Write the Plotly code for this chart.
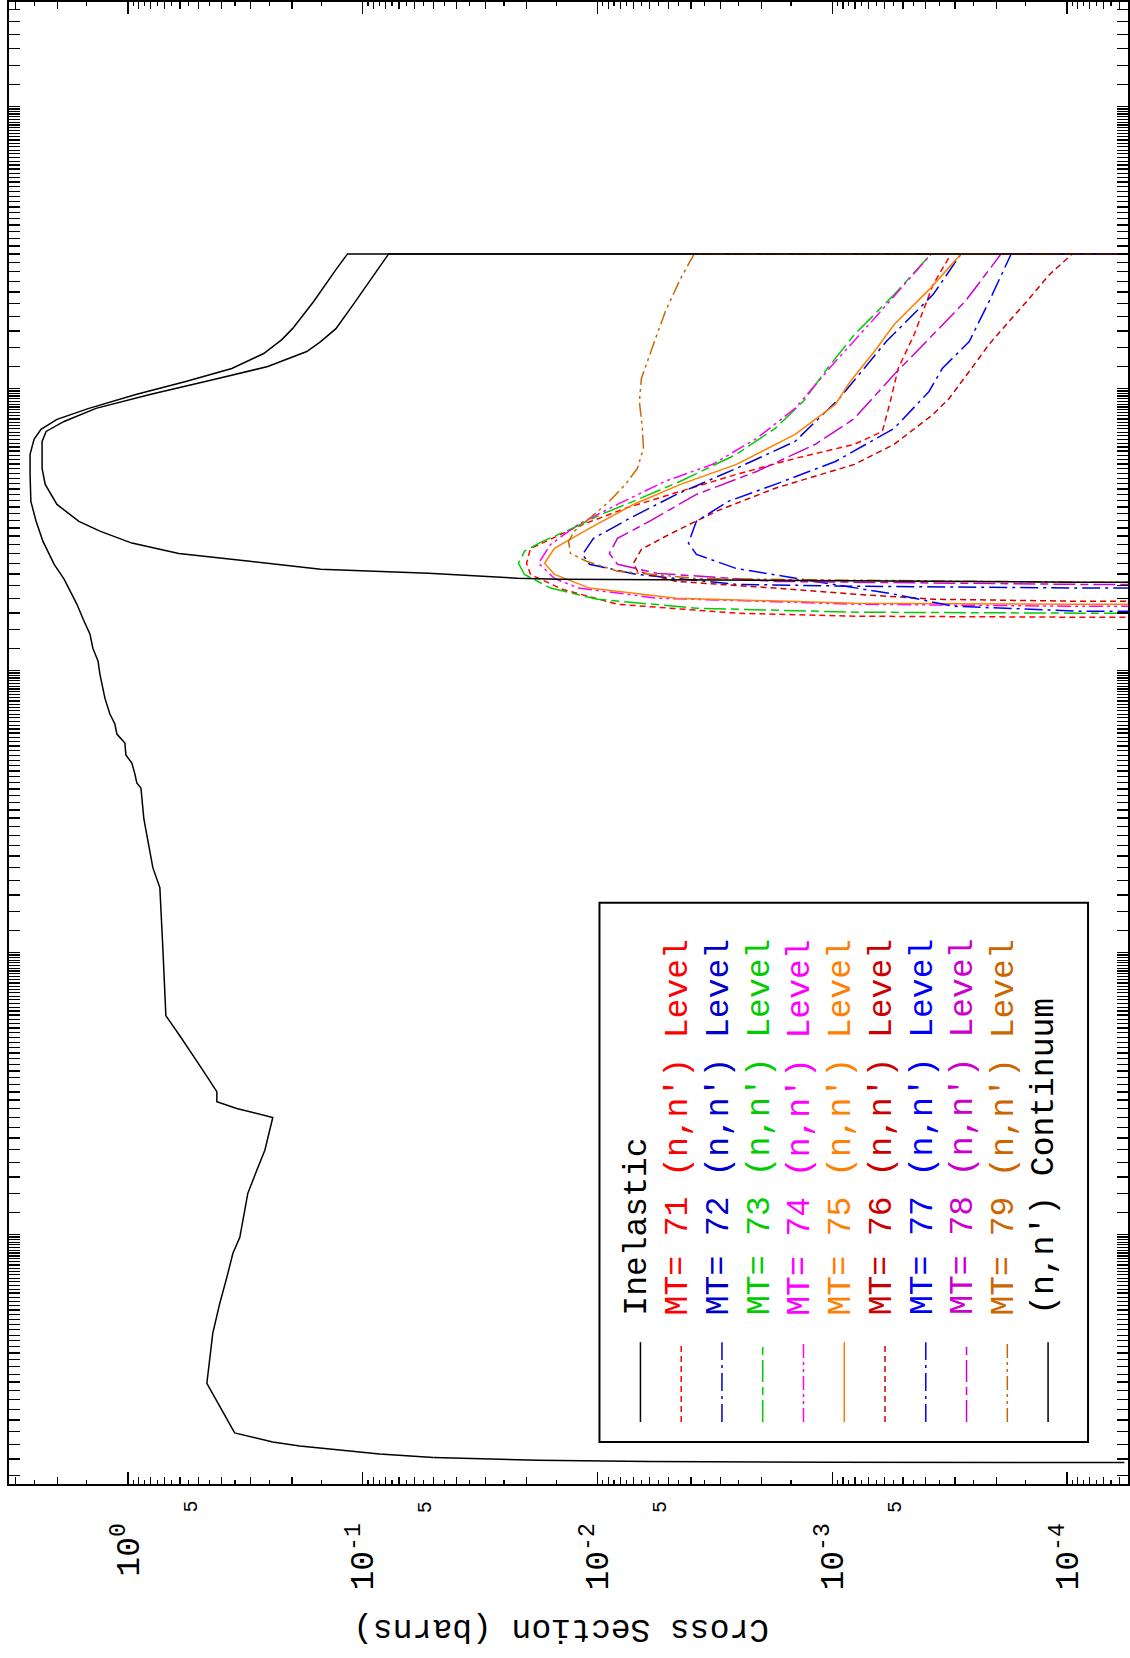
import math
import plotly.graph_objects as go

# ---------------- data (energy in eV, cross section in barns) ----------------
INEL_E = [3.0e7, 3.0e7, 2.64e7, 2.03e7, 1.63e7, 1.49e7, 1.33e7, 1.177e7, 1.059e7, 9.52e6,
          8.50e6, 7.77e6, 7.16e6, 6.60e6, 5.84e6, 4.96e6, 3.98e6, 3.38e6, 2.87e6, 2.38e6,
          2.11e6, 1.72e6, 1.52e6, 1.345e6, 1.20e6, 1.08e6, 9.71e5, 7.98e5, 7.01e5, 6.46e5,
          5.95e5, 5.53e5, 5.02e5, 4.70e5, 4.30e5, 3.99e5, 3.83e5, 2.98e5, 2.00e5, 1.70e5,
          1.04e5, 5.97e4, 5.37e4, 5.07e4, 3.97e4, 3.21e4, 2.96e4, 2.80e4, 2.60e4, 1.99e4,
          1.69e4, 1.40e4, 9.77e3, 8.58e3, 7.05e3, 5.71e3, 4.47e3, 2.97e3, 1.98e3, 1.84e3,
          1.778e3, 1.667e3, 1.62e3, 1.585e3, 1.568e3, 1.558e3, 1.5545e3]
INEL_XS = [1e-8, 0.116, 0.130, 0.162, 0.199, 0.221, 0.264, 0.361, 0.567, 0.925,
           1.466, 2.005, 2.345, 2.51, 2.61, 2.61, 2.59, 2.46, 2.30, 2.06,
           1.87, 1.65, 1.55, 1.45, 1.41, 1.34, 1.316, 1.253, 1.193, 1.136,
           1.114, 1.030, 1.020, 0.962, 0.934, 0.916, 0.880, 0.855, 0.783, 0.731,
           0.710, 0.689, 0.631, 0.601, 0.494, 0.418, 0.418, 0.344, 0.2415, 0.261,
           0.2825, 0.3085, 0.3337, 0.357, 0.379, 0.406, 0.435, 0.461, 0.351, 0.2415,
           0.1854, 0.0847, 0.0500, 0.0180, 0.0060, 0.0010, 5.7e-5]

MT71_E = [3.0e7, 3.0e7, 2.335e7, 1.553e7, 1.177e7, 8.99e6, 7.04e6, 6.34e6, 5.65e6, 4.96e6,
          4.32e6, 3.76e6, 3.25e6, 2.92e6, 2.71e6, 2.40e6, 2.19e6, 1.94e6, 1.718e6, 1.597e6,
          1.558e6, 1.545e6, 1.54e6]
MT71_XS = [1e-8, 3.12e-4, 3.72e-4, 4.48e-4, 5.24e-4, 5.66e-4, 6.12e-4, 8.05e-4, 1.44e-3, 2.56e-3,
           4.43e-3, 7.6e-3, 0.01205, 0.01584, 0.01928, 0.02005, 0.01928, 0.0141, 8.22e-3, 2.56e-3,
           8.05e-4, 8.9e-5, 1e-6]

MT72_E = [3.0e7, 3.0e7, 2.152e7, 1.467e7, 9.22e6, 6.49e6, 5.21e6, 4.21e6, 3.46e6, 2.94e6,
          2.58e6, 2.38e6, 2.19e6, 2.02e6, 1.99e6, 1.96e6, 1.955e6]
MT72_XS = [1e-8, 2.83e-4, 3.72e-4, 5.89e-4, 9.33e-4, 1.44e-3, 2.56e-3, 4.61e-3, 7.31e-3, 0.0104,
           0.01158, 0.01082, 6.76e-3, 2.56e-3, 8.05e-4, 8.9e-5, 1e-6]

MT73_E = [3.0e7, 3.0e7, 2.152e7, 1.553e7, 1.177e7, 8.99e6, 7.22e6, 5.84e6, 4.69e6, 3.98e6,
          3.58e6, 3.17e6, 2.87e6, 2.65e6, 2.40e6, 2.19e6, 1.96e6, 1.79e6, 1.663e6, 1.61e6,
          1.597e6, 1.59e6]
MT73_XS = [1e-8, 3.79e-4, 5.45e-4, 8.05e-4, 1.05e-3, 1.33e-3, 1.75e-3, 2.56e-3, 4.43e-3, 7.03e-3,
           9.62e-3, 0.01303, 0.01714, 0.02045, 0.0217, 0.02045, 0.01584, 0.0100, 3.79e-3, 8.05e-4,
           8.9e-5, 1e-6]

MT74_E = [3.0e7, 3.0e7, 1.77e7, 1.246e7, 8.50e6, 6.65e6, 5.38e6, 4.69e6, 3.88e6, 3.30e6,
          2.80e6, 2.40e6, 2.12e6, 1.96e6, 1.805e6, 1.718e6, 1.69e6, 1.685e6]
MT74_XS = [1e-8, 3.79e-4, 6.62e-4, 9.7e-4, 1.44e-3, 2.10e-3, 3.24e-3, 5.14e-3, 8.22e-3, 0.01205,
           0.01584, 0.01782, 0.01524, 0.01205, 5.56e-3, 8.05e-4, 8.9e-5, 1e-6]

MT75_E = [3.0e7, 3.0e7, 2.26e7, 1.685e7, 1.352e7, 1.059e7, 8.78e6, 6.87e6, 5.38e6, 4.57e6,
          3.88e6, 3.19e6, 2.87e6, 2.71e6, 2.40e6, 2.19e6, 1.96e6, 1.805e6, 1.733e6, 1.718e6,
          1.712e6]
MT75_XS = [1e-8, 2.83e-4, 3.83e-4, 5.45e-4, 6.62e-4, 8.38e-4, 9.7e-4, 1.44e-3, 2.56e-3, 4.43e-3,
           7.03e-3, 0.01082, 0.01355, 0.01524, 0.0168, 0.01524, 0.01082, 4.61e-3, 8.05e-4, 8.9e-5,
           1e-6]

MT76_E = [3.0e7, 3.0e7, 2.533e7, 2.083e7, 1.727e7, 1.432e7, 1.149e7, 9.22e6, 8.09e6, 6.34e6,
          5.38e6, 4.43e6, 3.67e6, 3.04e6, 2.69e6, 2.40e6, 2.25e6, 2.07e6, 1.96e6, 1.865e6,
          1.79e6, 1.76e6, 1.755e6]
MT76_XS = [1e-8, 9.5e-5, 1.19e-4, 1.45e-4, 1.77e-4, 2.15e-4, 2.61e-4, 3.18e-4, 3.72e-4, 5.45e-4,
           8.05e-4, 1.75e-3, 3.12e-3, 4.94e-3, 6.5e-3, 7.03e-3, 6.76e-3, 4.61e-3, 1.75e-3, 8.05e-4,
           3.72e-4, 8.9e-5, 1e-6]

MT77_E = [3.0e7, 3.0e7, 2.033e7, 1.467e7, 1.177e7, 9.76e6, 7.22e6, 5.51e6, 4.57e6, 3.98e6,
          3.38e6, 2.83e6, 2.58e6, 2.30e6, 2.07e6, 1.865e6, 1.69e6, 1.623e6, 1.615e6]
MT77_XS = [1e-8, 1.73e-4, 2.15e-4, 2.61e-4, 3.4e-4, 3.87e-4, 5.45e-4, 9.7e-4, 1.75e-3, 2.77e-3,
           3.79e-3, 4.1e-3, 3.79e-3, 2.56e-3, 1.18e-3, 5.45e-4, 3.06e-4, 8.9e-5, 1e-6]

MT78_E = [3.0e7, 3.0e7, 2.033e7, 1.553e7, 1.121e7, 7.83e6, 6.34e6, 5.08e6, 4.21e6, 3.38e6,
          2.94e6, 2.60e6, 2.38e6, 2.21e6, 2.07e6, 2.02e6, 2.015e6]
MT78_XS = [1e-8, 1.91e-4, 2.72e-4, 3.72e-4, 5.45e-4, 8.05e-4, 1.18e-3, 2.10e-3, 3.79e-3, 6.01e-3,
           8.22e-3, 8.9e-3, 8.22e-3, 5.56e-3, 1.75e-3, 8.9e-5, 1e-6]

MT79_E = [3.0e7, 3.0e7, 2.452e7, 1.874e7, 1.432e7, 1.085e7, 8.99e6, 7.22e6, 6.13e6, 5.21e6,
          4.57e6, 3.98e6, 3.46e6, 3.12e6, 2.87e6, 2.60e6, 2.44e6, 2.25e6, 2.12e6, 2.09e6,
          2.056e6, 2.05e6]
MT79_XS = [1e-8, 3.87e-3, 4.43e-3, 5.14e-3, 5.78e-3, 6.5e-3, 6.63e-3, 6.44e-3, 6.37e-3, 6.76e-3,
           7.6e-3, 8.9e-3, 0.01082, 0.01253, 0.01328, 0.01303, 0.01114, 8.22e-3, 3.79e-3, 8.05e-4,
           8.9e-5, 1e-6]

CONT_E = [3.0e7, 3.0e7, 2.55e7, 2.0e7, 1.63e7, 1.467e7, 1.352e7, 1.196e7, 1.076e7, 9.52e6,
          8.50e6, 7.64e6, 7.04e6, 6.49e6, 5.21e6, 4.57e6, 3.88e6, 3.38e6, 3.12e6, 2.83e6,
          2.60e6, 2.44e6, 2.286e6, 2.213e6, 2.125e6, 2.108e6, 2.056e6, 2.045e6]
CONT_XS = [1e-8, 0.0775, 0.0889, 0.109, 0.130, 0.151, 0.173, 0.2536, 0.4305, 0.806,
           1.368, 1.87, 2.23, 2.32, 2.32, 2.25, 2.005, 1.617, 1.316, 0.962,
           0.607, 0.3026, 0.151, 0.0524, 0.0219, 0.0145, 8.9e-5, 1e-6]

LEGEND_LABELS = ["Inelastic",
                 "MT= 71 (n,n') Level", "MT= 72 (n,n') Level", "MT= 73 (n,n') Level",
                 "MT= 74 (n,n') Level", "MT= 75 (n,n') Level", "MT= 76 (n,n') Level",
                 "MT= 77 (n,n') Level", "MT= 78 (n,n') Level", "MT= 79 (n,n') Level",
                 "(n,n') Continuum"]

XS_LABELED = [1.0, 0.1, 0.01, 0.001, 0.0001]
XS_LABEL_TEXT = ["10<sup>0</sup>", "10<sup>-1</sup>", "10<sup>-2</sup>",
                 "10<sup>-3</sup>", "10<sup>-4</sup>"]
XS_DECADES = [10.0, 1.0, 0.1, 0.01, 0.001, 0.0001, 0.00001]
XS_FIVE_LABELS = [0.5, 0.05, 0.005, 0.0005]
XS_MINOR_INT = [2, 3, 4, 5, 6, 7, 8, 9]
XS_MINOR_HALF = [1.5, 2.5, 3.5, 4.5, 5.5, 6.5, 7.5, 8.5, 9.5]
E_DECADES = [1e4, 1e5, 1e6, 1e7, 1e8]
E_MINOR_DECADES = [1e3, 1e4, 1e5, 1e6, 1e7, 1e8]
E_MINOR = [1.2, 1.4, 1.6, 1.8, 2.0, 2.2, 2.4, 2.6, 2.8, 3.0, 3.2, 3.4, 3.6, 3.8, 4.0,
           4.2, 4.4, 4.6, 4.8, 5.0, 5.2, 5.4, 5.6, 5.8, 6.0, 6.2, 6.4, 6.6, 6.8, 7.0,
           7.2, 7.4, 7.6, 7.8, 8.0, 8.2, 8.4, 8.6, 8.8, 9.0, 9.2, 9.4, 9.6, 9.8]

# ---------------- styles ----------------
SHORT = "6px,4px"
DASHDOT = "18px,5px,3px,5px"
LONGSHORT = "22px,5px,8px,5px"
DASHDOTDOT = "14px,4px,3px,4px,3px,4px"

SERIES = [
    (INEL_E, INEL_XS, "#000000", "solid"),
    (MT71_E, MT71_XS, "#FF0000", SHORT),
    (MT72_E, MT72_XS, "#0000CC", DASHDOT),
    (MT73_E, MT73_XS, "#00CC00", LONGSHORT),
    (MT74_E, MT74_XS, "#FF00FF", DASHDOTDOT),
    (MT75_E, MT75_XS, "#FF8000", "solid"),
    (MT76_E, MT76_XS, "#CC0000", SHORT),
    (MT77_E, MT77_XS, "#0000FF", DASHDOT),
    (MT78_E, MT78_XS, "#CC00CC", LONGSHORT),
    (MT79_E, MT79_XS, "#CC6600", DASHDOTDOT),
    (CONT_E, CONT_XS, "#000000", "solid"),
]

FONT = "Liberation Mono, Courier New, monospace"
W, H = 1130, 1658
ML, MR, MTOP, MB = 9, 1, 0, 174
PW = W - ML - MR
PH = H - MTOP - MB


def pxx(x):
    return (x - ML) / PW


def pxy(y):
    return (PH + MTOP - y) / PH


XS_RANGE = [0.5064, -4.2596]
E_RANGE = [3.1155, 8.3704]

fig = go.Figure()
for i, (e, xs, col, dash) in enumerate(SERIES):
    ax = "x2" if i == len(SERIES) - 1 else "x"
    # draw each curve in two pieces (above / below its lowest-energy bend)
    cut = len(e) - 5 if i == 0 else len(e)
    pieces = [(0, cut + 1)] if cut >= len(e) - 1 else [(0, cut + 1), (cut, len(e))]
    for a, b in pieces:
        fig.add_trace(go.Scatter(
            x=xs[a:b], y=e[a:b], mode="lines",
            line=dict(color=col, width=1.5, dash=dash, simplify=False),
            xaxis=ax, yaxis="y", showlegend=False, hoverinfo="skip"))

x_minor_int = [m * d for d in XS_DECADES for m in XS_MINOR_INT]
x_minor_half = [m * d for d in XS_DECADES for m in XS_MINOR_HALF]
e_minor = [m * d for d in E_MINOR_DECADES for m in E_MINOR]

fig.update_layout(
    width=W, height=H,
    margin=dict(l=ML, r=MR, t=MTOP, b=MB, pad=0),
    paper_bgcolor="white", plot_bgcolor="white",
    showlegend=False,
    xaxis=dict(
        type="log", range=XS_RANGE, showgrid=False, zeroline=False,
        showline=True, linecolor="black", linewidth=2, mirror="allticks",
        ticks="inside", ticklen=12, tickwidth=1.5, tickcolor="black",
        tickmode="array", tickvals=XS_LABELED, ticktext=XS_LABEL_TEXT,
        tickangle=-90, ticklabelstandoff=24,
        tickfont=dict(family=FONT, size=33, color="black"),
        minor=dict(tickmode="array", tickvals=x_minor_int, ticks="inside",
                   ticklen=7, tickwidth=1.2, tickcolor="black", showgrid=False),
    ),
    xaxis2=dict(
        type="log", range=XS_RANGE, overlaying="x", anchor="y", side="bottom",
        showgrid=False, zeroline=False, showline=False, mirror="allticks",
        ticks="inside", ticklen=4, tickwidth=1.2, tickcolor="black",
        tickmode="array", tickvals=x_minor_half, showticklabels=False,
    ),
    yaxis=dict(
        type="log", range=E_RANGE, showgrid=False, zeroline=False,
        showline=True, linecolor="black", linewidth=2, mirror="allticks",
        ticks="inside", ticklen=11, tickwidth=1.5, tickcolor="black",
        tickmode="array", tickvals=E_DECADES, showticklabels=False,
        minor=dict(tickmode="array", tickvals=e_minor, ticks="inside",
                   ticklen=4, tickwidth=1.2, tickcolor="black", showgrid=False),
    ),
)

annotations = []
for v in XS_FIVE_LABELS:
    annotations.append(dict(
        x=math.log10(v), xref="x", y=pxy(1507), yref="paper",
        text="5", showarrow=False, textangle=-90, xshift=-7,
        xanchor="center", yanchor="middle",
        font=dict(family=FONT, size=20, color="black")))

annotations.append(dict(
    x=pxx(562), xref="paper", y=pxy(1628), yref="paper",
    text="Cross Section (barns)", showarrow=False, textangle=180,
    xanchor="center", yanchor="middle",
    font=dict(family=FONT, size=33, color="black")))

shapes = [dict(type="rect", xref="paper", yref="paper",
               x0=pxx(600), x1=pxx(1089), y0=pxy(1442), y1=pxy(902),
               line=dict(color="black", width=2), fillcolor="rgba(0,0,0,0)")]

for k, (label, (_, _, col, dash)) in enumerate(zip(LEGEND_LABELS, SERIES)):
    cx = 638 + 40.8 * k
    annotations.append(dict(
        x=pxx(cx), xref="paper", y=pxy(1317), yref="paper",
        text=label, showarrow=False, textangle=-90,
        xanchor="center", yanchor="bottom",
        font=dict(family=FONT, size=33, color=col)))
    shapes.append(dict(type="line", xref="paper", yref="paper",
                       x0=pxx(cx + 3), x1=pxx(cx + 3), y0=pxy(1422), y1=pxy(1342),
                       line=dict(color=col, width=1.5, dash=dash)))

fig.update_layout(annotations=annotations, shapes=shapes)
fig.write_html("out.html",
               config={"displayModeBar": False, "staticPlot": True},
               post_script="document.body.style.margin='0px';document.body.style.overflow='hidden';")
